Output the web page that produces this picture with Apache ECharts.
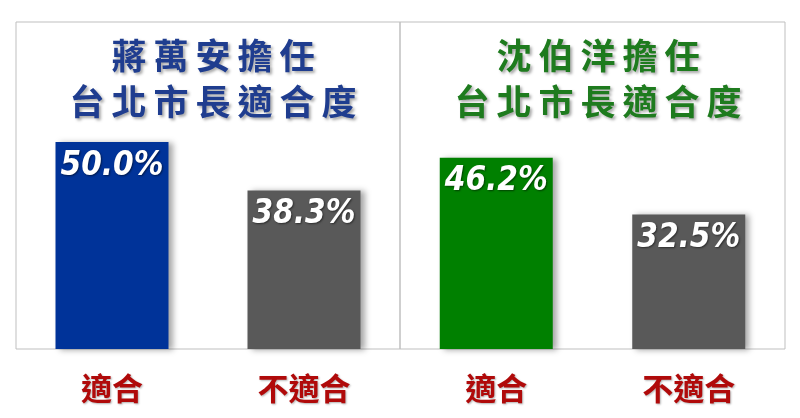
<!DOCTYPE html>
<html>
<head>
<meta charset="utf-8">
<script src="https://cdn.jsdelivr.net/npm/echarts@6/dist/echarts.min.js"></script>
<style>
  html, body { margin: 0; padding: 0; background: #fff; }
  #chart { width: 800px; height: 418px; }
</style>
</head>
<body>
<div id="chart"></div>
<script>
// data
const categories = ['適合', '不適合'];
const jiangValues = [50.0, 38.3];
const shenValues = [46.2, 32.5];
const jiangTitle = ['蔣萬安擔任', '台北市長適合度'];
const shenTitle = ['沈伯洋擔任', '台北市長適合度'];

const blue = '#003399', green = '#008000', grey = '#595959';
const cjk = '"Noto Sans CJK TC", "Noto Sans CJK SC", sans-serif';

// spread the characters a little like the original
const spaced = s => s.split('').join('\u2009');

const chart = echarts.init(document.getElementById('chart'));

const titleStyle = (color) => ({
  fontFamily: cjk,
  fontSize: 35,
  fontWeight: 'bold',
  color: color,
  lineHeight: 46,
  textShadowColor: 'rgba(0,0,0,0.35)',
  textShadowBlur: 3,
  textShadowOffsetX: 2,
  textShadowOffsetY: 2
});

const xAxisFor = (gridIndex) => ({
  type: 'category',
  gridIndex: gridIndex,
  data: categories,
  axisLine: { show: false },
  axisTick: { show: false },
  axisLabel: {
    margin: 24,
    fontFamily: cjk,
    fontSize: 31,
    fontWeight: 'bold',
    color: '#b00a0a',
    textShadowColor: 'rgba(0,0,0,0.3)',
    textShadowBlur: 2,
    textShadowOffsetX: 1,
    textShadowOffsetY: 1
  }
});

const yAxisFor = (gridIndex) => ({
  type: 'value',
  gridIndex: gridIndex,
  min: 0,
  max: 79,
  show: false
});

const barFor = (idx, values, mainColor) => ({
  type: 'bar',
  xAxisIndex: idx,
  yAxisIndex: idx,
  barWidth: 113,
  data: values.map((v, i) => ({
    value: v,
    itemStyle: { color: i === 0 ? mainColor : grey }
  })),
  itemStyle: {
    shadowColor: 'rgba(0,0,0,0.35)',
    shadowBlur: 6,
    shadowOffsetX: 4,
    shadowOffsetY: 1
  },
  label: {
    show: true,
    position: 'insideTop',
    distance: 4,
    formatter: p => p.value.toFixed(1) + '%',
    fontFamily: '"DejaVu Sans Condensed", "DejaVu Sans", sans-serif',
    fontStyle: 'italic',
    fontWeight: 'bold',
    fontSize: 33,
    lineHeight: 40,
    color: '#fff',
    textShadowColor: 'rgba(0,0,0,0.5)',
    textShadowBlur: 2,
    textShadowOffsetX: 1,
    textShadowOffsetY: 1
  }
});

chart.setOption({
  animation: false,
  title: [
    {
      text: spaced(jiangTitle[0]) + '\n' + spaced(jiangTitle[1]),
      left: 208, top: 28, textAlign: 'center',
      textStyle: titleStyle('#1f3d8f')
    },
    {
      text: spaced(shenTitle[0]) + '\n' + spaced(shenTitle[1]),
      left: 593, top: 28, textAlign: 'center',
      textStyle: titleStyle('#1e7b1e')
    }
  ],
  grid: [
    { left: 16, top: 22, width: 384, height: 327, show: true, borderColor: '#bfbfbf', borderWidth: 1 },
    { left: 400, top: 22, width: 385, height: 327, show: true, borderColor: '#bfbfbf', borderWidth: 1 }
  ],
  xAxis: [xAxisFor(0), xAxisFor(1)],
  yAxis: [yAxisFor(0), yAxisFor(1)],
  series: [
    barFor(0, jiangValues, blue),
    barFor(1, shenValues, green)
  ]
});
</script>
</body>
</html>
